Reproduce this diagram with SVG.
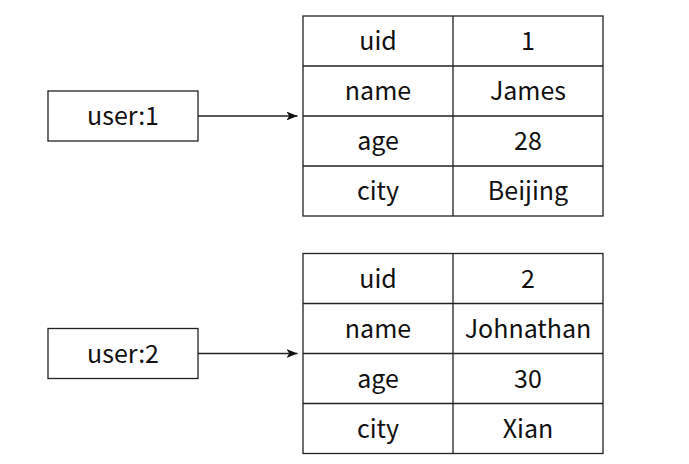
<svg xmlns="http://www.w3.org/2000/svg" width="689" height="464" viewBox="0 0 689 464">
<defs>
<style>
.box{fill:#fff;stroke:#222;stroke-width:1.3}
.ln{stroke:#222;stroke-width:1.3;fill:none}
.t{font-family:"Noto Sans CJK SC","Noto Sans",sans-serif;font-size:25px;fill:#111;text-anchor:middle;dominant-baseline:central}
</style>
<marker id="ah" viewBox="0 0 10 10" refX="10" refY="5" markerWidth="11" markerHeight="11" markerUnits="userSpaceOnUse" orient="auto">
<path d="M0,1 L10,5 L0,9 L2.5,5 Z" fill="#111"/>
</marker>
</defs>
<rect width="689" height="464" fill="#fff"/>
<g id="user1">
<rect class="box" x="48" y="91" width="150" height="50"/>
<text class="t" x="123" y="114">user:1</text>
</g>
<g id="user2">
<rect class="box" x="48" y="328.5" width="150" height="50"/>
<text class="t" x="123" y="351.5">user:2</text>
</g>
<g id="hash1">
<rect class="box" x="303" y="16" width="300" height="200"/>
<path class="ln" d="M303,66H603M303,116H603M303,166H603M453,16V216"/>
<text class="t" x="378" y="39">uid</text><text class="t" x="528" y="39">1</text>
<text class="t" x="378" y="89">name</text><text class="t" x="528" y="89">James</text>
<text class="t" x="378" y="139">age</text><text class="t" x="528" y="139">28</text>
<text class="t" x="378" y="189">city</text><text class="t" x="528" y="189">Beijing</text>
</g>
<g id="hash2">
<rect class="box" x="303" y="253.5" width="300" height="200"/>
<path class="ln" d="M303,303.5H603M303,353.5H603M303,403.5H603M453,253.5V453.5"/>
<text class="t" x="378" y="276.5">uid</text><text class="t" x="528" y="276.5">2</text>
<text class="t" x="378" y="326.5">name</text><text class="t" x="528" y="326.5">Johnathan</text>
<text class="t" x="378" y="376.5">age</text><text class="t" x="528" y="376.5">30</text>
<text class="t" x="378" y="426.5">city</text><text class="t" x="528" y="426.5">Xian</text>
</g>
<g id="connectors">
<path class="ln" d="M198,116H297.5" marker-end="url(#ah)"/>
<path class="ln" d="M198,353.5H297.5" marker-end="url(#ah)"/>
</g>
</svg>
